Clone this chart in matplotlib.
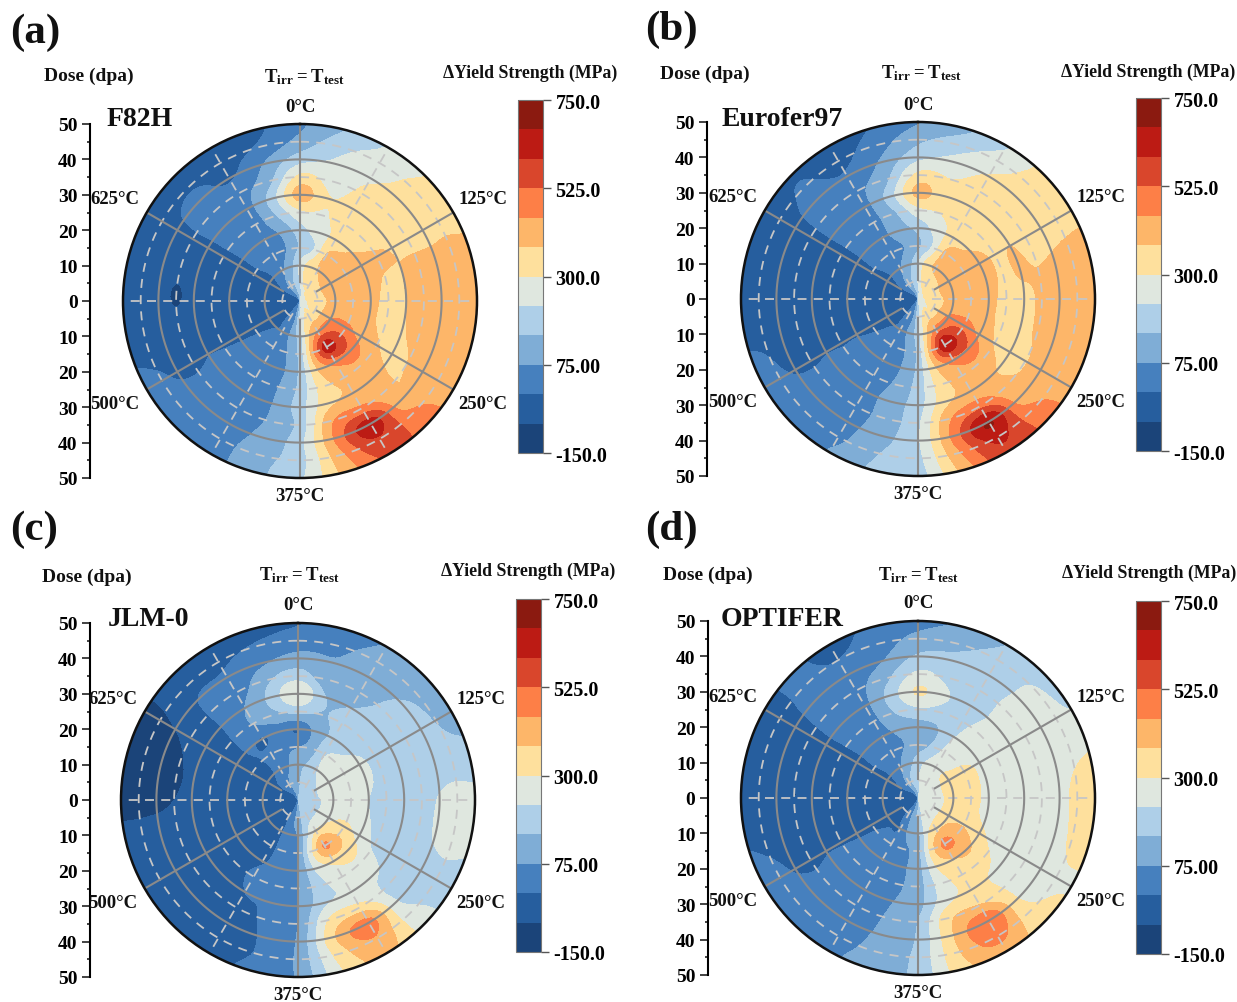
import numpy as np
import matplotlib
matplotlib.use("Agg")
import matplotlib.pyplot as plt

plt.rcParams['font.family'] = ['Liberation Serif', 'DejaVu Serif']
plt.rcParams['font.weight'] = 'bold'
plt.rcParams['mathtext.fontset'] = 'custom'
plt.rcParams['mathtext.rm'] = 'Liberation Serif:bold'
plt.rcParams['mathtext.bf'] = 'Liberation Serif:bold'

W, H = 1237, 1003

# rows: temperature angle 0,15..345 deg (clockwise from top), columns: dose 0,5..50 dpa
theta_deg = list(range(0, 360, 15))
dose = [0, 5, 10, 15, 20, 25, 30, 35, 40, 45, 50]

f82h = [
    [150, 220, 240, 160, 190, 280, 410, 320, 190, 100, 60],
    [220, 310, 340, 225, 260, 290, 305, 270, 240, 200, 150],
    [280, 320, 375, 380, 320, 325, 320, 310, 290, 260, 230],
    [280, 340, 400, 400, 370, 340, 335, 330, 320, 315, 300],
    [280, 350, 410, 420, 400, 385, 370, 350, 345, 350, 345],
    [280, 350, 405, 420, 400, 370, 375, 400, 405, 410, 400],
    [280, 340, 400, 410, 395, 355, 375, 410, 420, 420, 410],
    [280, 340, 410, 420, 390, 360, 370, 400, 420, 420, 410],
    [280, 330, 450, 470, 420, 380, 360, 375, 410, 415, 410],
    [280, 320, 470, 560, 500, 420, 390, 385, 400, 470, 500],
    [280, 330, 450, 640, 470, 400, 390, 470, 640, 590, 540],
    [230, 300, 370, 440, 380, 340, 345, 440, 470, 430, 400],
    [150, 230, 190, 175, 165, 170, 190, 175, 200, 195, 210],
    [80, 70, 90, 70, 60, 70, 75, 80, 100, 125, 130],
    [20, 40, 10, 20, 30, 35, 35, 40, 40, 45, 50],
    [-20, -30, -5, 15, 20, 25, 30, 30, 30, 30, 35],
    [-20, -50, -40, -20, -10, -5, -3, -15, -10, 10, 20],
    [-20, -60, -50, -45, -40, -35, -35, -35, -35, -30, -20],
    [-20, -50, -50, -50, -55, -55, -55, -80, -55, -45, -40],
    [-20, -40, -45, -45, -40, -50, -50, -60, -50, -40, -35],
    [-20, -10, -40, -20, -15, -12, -10, -10, -15, -20, -10],
    [-20, 40, 10, 20, 20, 20, 20, 25, 25, -10, -25],
    [40, 100, 60, 40, 40, 40, 45, 45, -10, -25, -35],
    [100, 160, 120, 75, 85, 150, 190, 120, 75, 10, -15],
]

eurofer97 = [
    [150, 230, 220, 130, 170, 270, 400, 320, 200, 130, 70],
    [220, 320, 345, 230, 250, 300, 320, 300, 250, 190, 130],
    [280, 330, 385, 385, 335, 330, 330, 325, 305, 260, 215],
    [280, 340, 400, 405, 370, 345, 345, 345, 335, 330, 320],
    [280, 350, 410, 430, 400, 365, 375, 350, 350, 350, 350],
    [280, 355, 410, 425, 400, 365, 380, 375, 385, 400, 410],
    [280, 340, 410, 420, 395, 355, 360, 385, 415, 420, 420],
    [280, 340, 410, 425, 395, 355, 350, 385, 415, 425, 420],
    [280, 330, 460, 490, 430, 370, 350, 370, 410, 420, 415],
    [280, 320, 480, 590, 510, 420, 380, 395, 420, 480, 510],
    [280, 330, 470, 660, 480, 410, 400, 500, 680, 620, 580],
    [230, 300, 370, 440, 375, 340, 350, 440, 480, 440, 400],
    [150, 200, 190, 170, 170, 180, 190, 210, 215, 205, 190],
    [80, 70, 95, 70, 70, 85, 110, 110, 125, 145, 160],
    [20, 40, 15, 25, 30, 40, 40, 45, 50, 60, 80],
    [-20, -30, -5, 15, 20, 25, 30, 35, 35, 35, 40],
    [-20, -50, -40, -20, -5, -5, -3, -10, -5, 10, 25],
    [-20, -60, -50, -45, -40, -35, -35, -35, -25, -10, -5],
    [-20, -50, -50, -50, -55, -55, -50, -50, -50, -45, -40],
    [-20, -40, -45, -45, -40, -45, -45, -50, -45, -40, -35],
    [-20, -10, -35, -15, -15, -12, -10, -10, -15, -20, -10],
    [-20, 40, 15, 25, 25, 20, 20, 20, 20, 5, -5],
    [40, 100, 65, 45, 55, 50, 50, 55, 10, -20, -30],
    [100, 160, 120, 75, 110, 140, 190, 130, 85, 40, 5],
]

jlm0 = [
    [90, 120, 120, 70, 0, 170, 300, 190, 100, 40, -5],
    [170, 180, 160, 110, 100, 145, 150, 90, 80, 60, 30],
    [170, 190, 215, 215, 170, 170, 150, 110, 110, 100, 80],
    [170, 200, 250, 245, 210, 200, 190, 170, 150, 130, 110],
    [170, 210, 270, 275, 240, 205, 195, 190, 185, 145, 130],
    [170, 215, 270, 280, 240, 205, 195, 190, 190, 180, 170],
    [170, 210, 260, 265, 225, 190, 180, 195, 230, 255, 250],
    [170, 205, 265, 275, 235, 190, 180, 190, 230, 250, 240],
    [170, 205, 280, 320, 270, 210, 195, 185, 190, 200, 190],
    [170, 200, 300, 390, 340, 270, 235, 210, 220, 250, 270],
    [170, 190, 300, 460, 320, 260, 240, 330, 480, 440, 400],
    [170, 170, 210, 290, 240, 200, 210, 310, 370, 330, 300],
    [70, 100, 80, 75, 70, 70, 75, 75, 85, 90, 85],
    [20, 50, 60, 30, 20, 20, 10, 10, 5, 5, 20],
    [-60, -20, -25, -15, -5, 10, 0, -15, -20, -25, -20],
    [-60, -60, -50, -40, -35, -25, -30, -30, -30, -30, -25],
    [-60, -65, -60, -50, -45, -40, -40, -40, -35, -35, -30],
    [-60, -75, -65, -60, -60, -55, -55, -55, -55, -60, -55],
    [-60, -70, -65, -65, -65, -65, -65, -75, -85, -85, -90],
    [-60, -55, -60, -60, -60, -60, -65, -80, -90, -90, -95],
    [-60, -25, -50, -40, -40, -40, -45, -60, -75, -85, -85],
    [-60, 30, -10, -5, 5, 10, 5, 5, 0, -30, -50],
    [20, 60, 30, 15, -5, 80, 75, 30, 10, -15, -50],
    [60, 100, 70, 60, 30, 130, 170, 130, 60, 10, -30],
]

optifer = [
    [120, 210, 190, 110, 110, 210, 310, 240, 160, 100, 45],
    [230, 250, 240, 160, 140, 200, 235, 200, 165, 135, 90],
    [230, 265, 280, 240, 220, 210, 190, 175, 175, 170, 150],
    [230, 280, 300, 270, 250, 250, 240, 245, 235, 225, 190],
    [230, 285, 310, 320, 280, 270, 265, 265, 265, 250, 225],
    [230, 280, 320, 320, 285, 265, 265, 265, 275, 290, 300],
    [230, 275, 320, 315, 285, 260, 255, 260, 280, 315, 325],
    [230, 270, 325, 325, 280, 260, 255, 255, 265, 310, 320],
    [230, 265, 340, 365, 320, 275, 250, 250, 260, 290, 295],
    [230, 255, 360, 430, 385, 330, 290, 290, 300, 320, 340],
    [230, 250, 340, 470, 370, 330, 315, 380, 520, 480, 410],
    [230, 240, 280, 340, 300, 260, 270, 360, 380, 370, 350],
    [110, 160, 125, 120, 115, 115, 120, 150, 160, 170, 170],
    [50, 90, 90, 60, 60, 60, 70, 80, 90, 105, 120],
    [-30, 30, 5, 15, 25, 35, 35, 40, 40, 45, 60],
    [-30, -30, -10, 15, 20, 25, 30, 30, 30, 30, 35],
    [-30, -50, -40, -20, -10, -5, -5, -15, -5, 15, 25],
    [-30, -60, -50, -45, -40, -35, -35, -35, -25, -15, -5],
    [-30, -50, -50, -50, -55, -55, -55, -75, -50, -40, -35],
    [-30, -40, -45, -45, -40, -45, -50, -55, -45, -35, -30],
    [-30, -5, -30, -15, -15, -12, -10, -12, -15, -15, -10],
    [-30, 40, 20, 20, 20, 20, 20, 20, 20, 10, 5],
    [40, 100, 65, 45, 50, 55, 55, 50, 30, 0, -10],
    [90, 170, 120, 75, 90, 150, 180, 130, 70, 30, 10],
]

levels = list(range(-150, 751, 75))
level_colors = ['#1B4479', '#265E9E', '#4680BE', '#7FADD6', '#AECFE8', '#DFE7DF',
                '#FEE09D', '#FDB669', '#FD7F47', '#D9462C', '#BC1B14', '#8B1A10']
cbar_ticks = [-150, 75, 300, 525, 750]
cbar_labels = ['-150.0', '75.00', '300.0', '525.0', '750.0']
dose_ticks = [-50, -40, -30, -20, -10, 0, 10, 20, 30, 40, 50]
temp_labels = ['0°C', '125°C', '250°C', '375°C', '500°C', '625°C']

materials = ['F82H', 'Eurofer97', 'JLM-0', 'OPTIFER']
panel_tags = ['(a)', '(b)', '(c)', '(d)']
tables = [f82h, eurofer97, jlm0, optifer]

# pixel layout of each panel
center_x = [300, 918, 298, 918]
center_y = [302, 300, 801, 799]
radius = 177
axis_x = [89, 706, 89, 707]
cbar_x = [518, 1136, 516, 1136]
cbar_top = [101, 99, 600, 602]
cbar_h = 353
cbar_w = 25
dose_title = [(89, 76), (705, 74), (87, 577), (708, 575)]
t_title = [(305, 77), (922, 73), (300, 575), (919, 575)]
ys_title = [(530, 73), (1148, 72), (528, 571), (1149, 573)]
name_pos = [(107, 119), (722, 119), (108, 620), (721, 620)]
tag_pos = [(10, 33), (645, 30), (10, 530), (645, 530)]
label_off = [(0, -195), (183, -102), (183, 103), (0, 195), (-185, 103), (-185, -102)]


def box(x0, y0, w, h):
    return [x0 / W, 1 - (y0 + h) / H, w / W, h / H]


def txt(x, y, s, size, ha='center'):
    plt.gcf().text(x / W, 1 - y / H, s, fontsize=size, ha=ha, va='center',
                   fontweight='bold', color='#111111')


def cr_weights(u):
    # catmull-rom basis, only used to round the contour outlines
    return [(-u + 2 * u**2 - u**3) / 2, (2 - 5 * u**2 + 3 * u**3) / 2,
            (u + 4 * u**2 - 3 * u**3) / 2, (-u**2 + u**3) / 2]


def upsample(z, n, periodic):
    rows = z.shape[0]
    out = []
    stop = rows if periodic else rows - 1
    for k in range(stop):
        for s in range(n):
            w = cr_weights(s / n)
            if periodic:
                idx = [(k - 1) % rows, k, (k + 1) % rows, (k + 2) % rows]
            else:
                idx = [max(k - 1, 0), k, k + 1, min(k + 2, rows - 1)]
            out.append(sum(w[j] * z[idx[j]] for j in range(4)))
    if periodic:
        out.append(out[0])
    else:
        out.append(z[-1])
    return np.array(out)


def smooth_field(table, n=8):
    z = upsample(np.array(table, dtype=float), n, True)
    z = upsample(z.T, n, False).T
    t = np.deg2rad(np.linspace(0, 360, z.shape[0]))
    r = np.linspace(dose[0], dose[-1], z.shape[1])
    return t, r, z


fig = plt.figure(figsize=(W / 100, H / 100), dpi=100, facecolor='white')

for i in range(4):
    cx, cy = center_x[i], center_y[i]
    ax = fig.add_axes(box(cx - radius, cy - radius, 2 * radius, 2 * radius), projection='polar')
    ax.set_theta_zero_location('N')
    ax.set_theta_direction(-1)

    t, r, z = smooth_field(tables[i])
    cs = ax.contourf(t, r, z.T, levels=levels, colors=level_colors)

    # grid, drawn by hand because the spokes stop short of the centre
    tt = np.linspace(0, 2 * np.pi, 361)
    for rr in [5, 15, 25, 35, 45]:
        ax.plot(tt, np.full(361, rr), color='#c6c6c6', lw=1.3, ls=(0, (5, 4)))
    for a in range(30, 360, 60):
        ax.plot([np.deg2rad(a)] * 2, [4, 50], color='#c6c6c6', lw=1.3, ls=(0, (5, 4)))
    for rr in [10, 20, 30, 40]:
        ax.plot(tt, np.full(361, rr), color='#8a8a8a', lw=1.5)
    for a in range(0, 360, 60):
        ax.plot([np.deg2rad(a)] * 2, [5.5, 50], color='#8a8a8a', lw=1.5)

    ax.set_ylim(0, 50)
    ax.set_xticks([])
    ax.set_yticks([])
    ax.grid(False)
    ax.spines['polar'].set_linewidth(1.8)
    ax.spines['polar'].set_color('#111111')

    # dose axis on the left, mirrored about zero
    dax = fig.add_axes(box(axis_x[i] - 1, cy - radius, 2, 2 * radius))
    dax.set_ylim(-50, 50)
    dax.set_xticks([])
    dax.set_yticks(dose_ticks)
    dax.set_yticks(list(range(-45, 50, 10)), minor=True)
    dax.set_yticklabels([str(abs(v)) for v in dose_ticks])
    dax.tick_params(axis='y', which='major', length=5.5, width=1.2, pad=3.5, color='#222222', labelsize=14)
    dax.tick_params(axis='y', which='minor', length=2.5, width=1.2, color='#222222')
    for lab in dax.get_yticklabels():
        lab.set_fontweight('bold')
    for s in ['top', 'bottom', 'right']:
        dax.spines[s].set_visible(False)
    dax.spines['left'].set_position(('axes', 1.0))
    dax.spines['left'].set_linewidth(1.5)
    dax.patch.set_alpha(0)

    cax = fig.add_axes(box(cbar_x[i], cbar_top[i], cbar_w, cbar_h))
    cb = fig.colorbar(cs, cax=cax, ticks=cbar_ticks)
    cb.ax.set_yticklabels(cbar_labels, fontsize=14.5, fontweight='bold')
    cb.ax.tick_params(length=6, width=1, color='#555555', pad=3)
    cb.outline.set_edgecolor('#777777')
    cb.outline.set_linewidth(0.8)

    for s, (dx, dy) in zip(temp_labels, label_off):
        txt(cx + dx, cy + dy, s, 13.5)
    txt(dose_title[i][0], dose_title[i][1], 'Dose (dpa)', 14)
    txt(t_title[i][0], t_title[i][1], r'$\mathrm{T_{irr}=T_{test}}$', 13.5)
    txt(ys_title[i][0], ys_title[i][1], 'ΔYield Strength (MPa)', 12.8)
    txt(name_pos[i][0], name_pos[i][1], materials[i], 20, ha='left')
    txt(tag_pos[i][0], tag_pos[i][1], panel_tags[i], 31, ha='left')

fig.savefig('out.png', dpi=100, facecolor='white')
